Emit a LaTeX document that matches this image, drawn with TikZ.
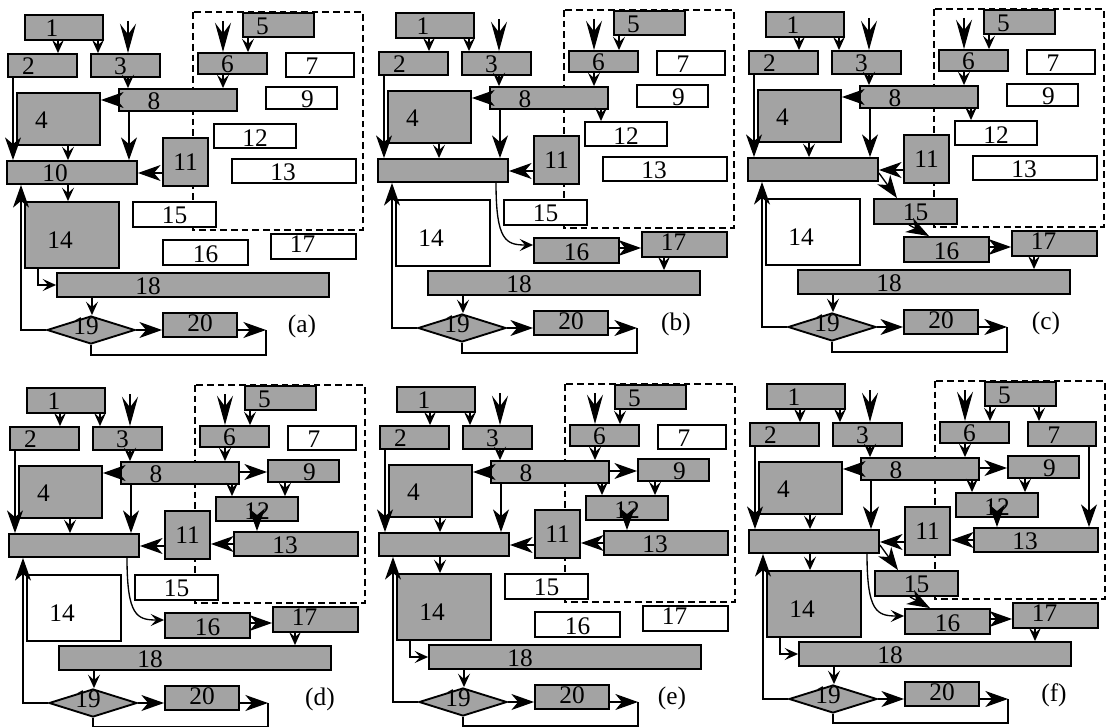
\documentclass[tikz,border=0pt]{standalone}
\usepackage{fontspec}
\setmainfont{Liberation Serif}
\usetikzlibrary{arrows.meta,shapes.geometric}
\tikzset{
 shd/.style={draw=black, line width=1.4pt, fill=black!36},
 wht/.style={draw=black, line width=1.4pt, fill=white},
 bx1/.style=shd, bx2/.style=shd, bx3/.style=shd, bx4/.style=shd, bx5/.style=shd,
 bx6/.style=shd, bx7/.style=shd, bx8/.style=shd, bx9/.style=shd, bx10/.style=shd,
 bx11/.style=shd, bx12/.style=shd, bx13/.style=shd, bx14/.style=shd, bx15/.style=shd,
 bx16/.style=shd, bx17/.style=shd, bx18/.style=shd, bx20/.style=shd,
 ln/.style={draw=black, line width=1pt},
 sa/.style={ln, -{Stealth[length=10pt,width=9pt,inset=4pt]}},
 ba/.style={ln, -{Stealth[length=17pt,width=12pt,inset=5pt]}},
 ia/.style={ln, -{Stealth[length=22pt,width=12pt,inset=8pt]}},
 dia/.style={diamond, draw=black, line width=1.4pt, fill=black!36, inner sep=0pt,
   minimum width=66pt, minimum height=21pt, label={[shift={(-5,-4)}]center:19}},
 dsh/.style={draw=black, line width=1pt, dash pattern=on 5pt off 3pt},
}
\newcommand\bx[9]{\node[#2, inner sep=0pt, minimum width={(#5-#3)*0.75pt},
  minimum height={(#6-#4)*0.75pt}, label={[shift={(#8,#9)}]center:#7}]
  (#1) at ({(#3+#5)/2},{(#4+#6)/2}) {};}
\newcommand\vdn[4]{\draw[#4] (#1.south -| #3,0) -- (#2.north -| #3,0);}
\newcommand\hlt[4]{\draw[#4] (#1.west |- 0,#3) -- (#2.east |- 0,#3);}
\newcommand\hrt[4]{\draw[#4] (#1.east |- 0,#3) -- (#2.west |- 0,#3);}
\newcommand\allboxes[1]{%
 \draw[dsh] (193,12) rectangle (363,230);
 \bx{#1-1}{bx1}{25}{15}{103}{40}{1}{-12}{1}
 \bx{#1-2}{bx2}{8}{54}{77}{77}{2}{-14}{1}
 \bx{#1-3}{bx3}{91}{54}{160}{77}{3}{-5}{1}
 \bx{#1-4}{bx4}{17}{93}{100}{145}{4}{-17}{1}
 \bx{#1-5}{bx5}{243}{13}{314}{37}{5}{-16}{1}
 \bx{#1-6}{bx6}{198}{53}{267}{74}{6}{-5}{1}
 \bx{#1-7}{bx7}{286}{53}{354}{77}{7}{-8}{1}
 \bx{#1-8}{bx8}{119}{89}{237}{111}{8}{-24}{1}
 \bx{#1-9}{bx9}{266}{87}{337}{109}{9}{6}{1}
 \bx{#1-10}{bx10}{7}{161}{137}{184}{\tenlbl}{-17}{1}
 \bx{#1-11}{bx11}{163}{138}{208}{186}{11}{0}{0}
 \bx{#1-12}{bx12}{214}{124}{296}{148}{12}{0}{2}
 \bx{#1-13}{bx13}{232}{159}{356}{183}{13}{-11}{1}
 \bx{#1-14}{bx14}{25}{202}{119}{268}{14}{-12}{5}
 \bx{#1-15}{bx15}{133}{202}{216}{227}{15}{0}{1}
 \bx{#1-16}{bx16}{163}{240}{248}{265}{16}{0}{2}
 \bx{#1-17}{bx17}{271}{234}{356}{259}{17}{-11}{-2}
 \bx{#1-18}{bx18}{57}{273}{329}{297}{18}{-45}{1}
 \node[dia] (#1-19) at (91,330) {};
 \bx{#1-20}{bx20}{163}{313}{237}{337}{20}{0}{-2}
 \coordinate (#1-E) at (266,330);
 \coordinate (#1-t3) at (128,21);
 \coordinate (#1-t6) at (223,21);
 \vdn{#1-1}{#1-2}{58}{sa}
 \vdn{#1-1}{#1-3}{98}{sa}
 \draw[ia] (#1-t3) -- (#1-3.north -| #1-t3);
 \draw[ia] (#1-t6) -- (#1-6.north -| #1-t6);
 \vdn{#1-3}{#1-8}{128}{sa}
 \vdn{#1-5}{#1-6}{248}{sa}
 \vdn{#1-6}{#1-8}{223}{sa}
 \hlt{#1-8}{#1-4}{100}{ba}
 \vdn{#1-8}{#1-10}{129}{ba}
 \vdn{#1-2}{#1-10}{13}{ba}
 \vdn{#1-4}{#1-10}{68}{sa}
 \hlt{#1-11}{#1-10}{173}{ba}
 \vdn{#1-18}{#1-19}{92}{sa}
 \draw[ba] (#1-19.east) -- (#1-20.west |- #1-19.east);
 \draw[ba] (#1-19.west) -| (#1-10.south -| 21,0);
 \draw[ba] (#1-20.east |- #1-E) -- (#1-E);
 \draw[ln] (#1-19.south) -- ++(0,\drop) -| (#1-E);
}
\newcommand\tenfourteen[1]{%
 \vdn{#1-10}{#1-14}{68}{sa}
 \draw[sa] (#1-14.south -| 38,0) |- (#1-18.west);}
\newcommand\sixteen[1]{%
 \hrt{#1-16}{#1-17}{250}{ba}
 \vdn{#1-17}{#1-18}{293}{sa}}
\newcommand\curve[1]{%
 \draw[sa] (#1-10.south -| 125,0) .. controls (125,243) and (135,247) .. (#1-16.west |- 0,247);}
\newcommand\fifteen[1]{%
 \draw[ba] (#1-10.east |- 0,176) -- (#1-15.north -| 156,0);
 \draw[ba] (#1-15.south -| 168,0) -- (#1-16.north -| 188,0);}
\newcommand\nine[1]{%
 \hrt{#1-8}{#1-9}{99}{ba}
 \vdn{#1-9}{#1-12}{283}{sa}
 \vdn{#1-12}{#1-13}{255}{ba}
 \hlt{#1-13}{#1-11}{171}{ba}}
\begin{document}
\begin{tikzpicture}[x=0.75pt, y=-0.75pt, font=\fontsize{19}{19}\selectfont]
\useasboundingbox (0,0) rectangle (1109,727);
\def\drop{10}
% (a)
\begin{scope}
 \def\tenlbl{10}
 \tikzset{bx7/.style=wht, bx9/.style=wht, bx12/.style=wht, bx13/.style=wht,
   bx15/.style=wht, bx16/.style=wht, bx17/.style=wht}
 \allboxes{a}
 \tenfourteen{a}
 \node (a-lab) at (302,326) {(a)};
\end{scope}
% (b)
\begin{scope}[shift={(371,-2)}]
 \def\tenlbl{}
 \tikzset{bx7/.style=wht, bx9/.style=wht, bx12/.style=wht, bx13/.style=wht,
   bx14/.style=wht, bx15/.style=wht}
 \allboxes{b}
 \vdn{b-8}{b-12}{230}{sa}
 \curve{b}
 \sixteen{b}
 \node (b-lab) at (305,326) {(b)};
\end{scope}
% (c)
\begin{scope}[shift={(741,-3)}]
 \def\tenlbl{}
 \tikzset{bx7/.style=wht, bx9/.style=wht, bx12/.style=wht, bx13/.style=wht,
   bx14/.style=wht}
 \allboxes{c}
 \vdn{c-8}{c-12}{230}{sa}
 \fifteen{c}
 \sixteen{c}
 \node (c-lab) at (305,326) {(c)};
\end{scope}
\def\drop{9}
% (d)
\begin{scope}[shift={(2,373)}]
 \def\tenlbl{}
 \tikzset{bx7/.style=wht, bx14/.style=wht, bx15/.style=wht}
 \allboxes{d}
 \vdn{d-8}{d-12}{230}{sa}
 \nine{d}
 \curve{d}
 \sixteen{d}
 \node (d-lab) at (318,326) {(d)};
\end{scope}
% (e)
\begin{scope}[shift={(372,372)}]
 \def\tenlbl{}
 \tikzset{bx7/.style=wht, bx15/.style=wht, bx16/.style=wht, bx17/.style=wht}
 \allboxes{e}
 \vdn{e-8}{e-12}{230}{sa}
 \nine{e}
 \tenfourteen{e}
 \node (e-lab) at (300,326) {(e)};
\end{scope}
% (f)
\begin{scope}[shift={(742,369)}]
 \def\tenlbl{}
 \allboxes{f}
 \vdn{f-5}{f-7}{297}{sa}
 \vdn{f-7}{f-13}{347}{ba}
 \vdn{f-8}{f-12}{230}{sa}
 \nine{f}
 \tenfourteen{f}
 \fifteen{f}
 \curve{f}
 \sixteen{f}
 \node (f-lab) at (312,326) {(f)};
\end{scope}
\end{tikzpicture}
\end{document}
